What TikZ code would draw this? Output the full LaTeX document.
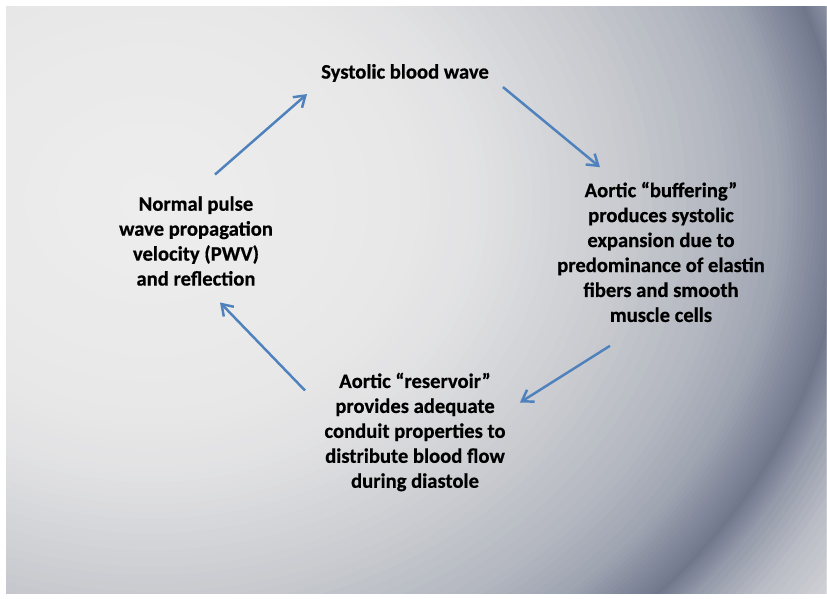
\documentclass[tikz,border=0pt]{standalone}
\usepackage{fontspec}
\setmainfont{Carlito}[BoldFeatures={FakeBold=0.6}]
\usepackage{tikz}
\usetikzlibrary{arrows.meta,positioning,calc}
\definecolor{arBlue}{HTML}{4F81BD}
\definecolor{bgA}{HTML}{EEEEEE}
\definecolor{bgB}{HTML}{E8E8E8}
\definecolor{bgC}{HTML}{E2E2E4}
\definecolor{bgD}{HTML}{D6D7DA}
\definecolor{bgE}{HTML}{C8CACF}
\definecolor{bgF}{HTML}{B4B8C1}
\definecolor{bgG}{HTML}{A0A5B2}
\definecolor{bgH}{HTML}{868C9E}
\definecolor{bgI}{HTML}{70778C}
\definecolor{bgJ}{HTML}{9096A6}
\definecolor{bgK}{HTML}{B8BBC4}
\definecolor{bgL}{HTML}{D0D2D6}
\definecolor{bgM}{HTML}{D4D6DA}

\begin{document}
\begin{tikzpicture}[
  x=0.03cm, y=-0.03cm,
  lbl/.style={font=\bfseries\fontsize{17.6}{21.3}\selectfont, align=center,
    inner sep=0pt, text=black},
  flow/.style={draw=arBlue, line width=2.1pt,
    -{Straight Barb[length=9pt,width=12pt]}},
]
\useasboundingbox (0,0) rectangle (827,599);
\fill[white] (0,0) rectangle (827,599);
\begin{scope}
  \clip (6,7) rectangle (826,594);
  \fill[bgM] (6,7) rectangle (826,594);
  \foreach \ra/\ca/\rb/\cb in {900/bgM/830/bgL, 830/bgL/770/bgK, 770/bgK/720/bgJ,
      720/bgJ/695/bgI, 695/bgI/665/bgH, 665/bgH/630/bgG, 630/bgG/570/bgF,
      570/bgF/480/bgE, 480/bgE/400/bgD, 400/bgD/330/bgC, 330/bgC/250/bgB,
      250/bgB/0/bgA} {
    \foreach \t in {0,12.5,...,87.5} {
      \pgfmathsetmacro\rx{(\ra-(\ra-\rb)*(\t/100))*0.85358}
      \pgfmathsetmacro\ry{\rx/1.2}
      \fill[\cb!\t!\ca] (150,200) ellipse [x radius=\rx pt, y radius=\ry pt];
    }
  }
\end{scope}
\node[lbl] (wave) at (405,73) {Systolic blood wave};
\node[lbl] (pwv) at (196,241) {Normal pulse\\wave propagation\\velocity (PWV)\\and reflection};
\node[lbl] (buffer) at (661,252) {Aortic “buffering”\\produces systolic\\expansion due to\\predominance of elastin\\fibers and smooth\\muscle cells};
\node[lbl] (reservoir) at (415,432) {Aortic “reservoir”\\provides adequate\\conduit properties to\\distribute blood flow\\during diastole};
\draw[flow] ([shift={(19,-21.5)}]pwv.north) -- ([shift={(-98,12)}]wave.south);
\draw[flow] ([shift={(98,5)}]wave.south) -- ([shift={(-61,-14.5)}]buffer.north);
\draw[flow] ([shift={(-51,23.5)}]buffer.south) -- ([shift={(105,30)}]reservoir.north);
\draw[flow] ([shift={(-110,18)}]reservoir.north) -- ([shift={(24,16.5)}]pwv.south);
\end{tikzpicture}
\end{document}
